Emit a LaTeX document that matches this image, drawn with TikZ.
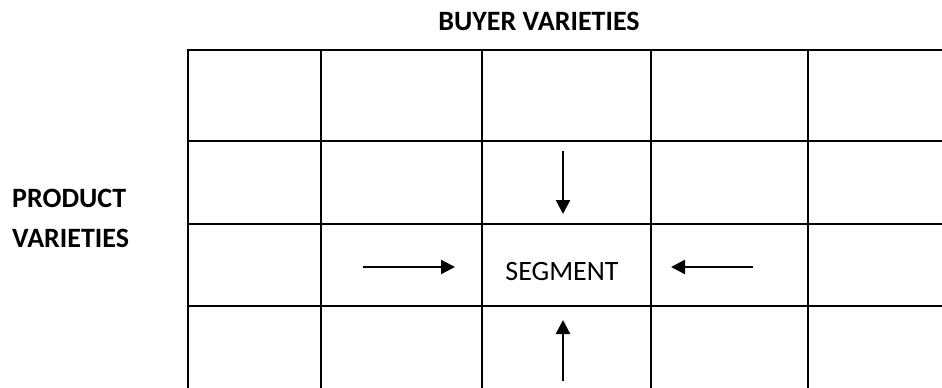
\documentclass[tikz,border=0pt]{standalone}
\usepackage{fontspec}
\setmainfont{Carlito}
\usetikzlibrary{arrows.meta}

\begin{document}
\begin{tikzpicture}[x=1pt, y=-1pt,
  gridline/.style={line width=1.8pt},
  push/.style={-{Triangle[length=14pt,width=14pt]}, line width=2.3pt},
  head/.style={font=\fontsize{28}{30}\selectfont\bfseries, inner sep=0pt},
]
  \useasboundingbox (0,0) rectangle (942,388);
  % grid
  \foreach \x in {188,321,482,651,808} \draw[gridline] (\x,50) -- (\x,388);
  \foreach \y in {141,224,306} \draw[gridline] (188,\y) -- (942,\y);
  \draw[line width=2.6pt] (187,50) -- (942,50);
  % labels
  \node[head] (buyer) at (539,21) {BUYER VARIETIES};
  \node[head, anchor=base west] (product) at (12,207) {PRODUCT};
  \node[head, anchor=base west] (varieties) at (12,247) {VARIETIES};
  \node[font=\fontsize{28}{30}\selectfont, inner sep=0pt, anchor=base] (segment) at (562,280) {SEGMENT};
  % arrows
  \coordinate (topfrom) at (563,151);
  \coordinate (topto) at (563,214);
  \coordinate (leftfrom) at (363,267);
  \coordinate (leftto) at (455,267);
  \coordinate (rightfrom) at (753,267);
  \coordinate (rightto) at (671,267);
  \coordinate (botfrom) at (563,381);
  \coordinate (botto) at (563,320);
  \foreach \s in {top,left,right,bot} \draw[push] (\s from) -- (\s to);
\end{tikzpicture}
\end{document}
